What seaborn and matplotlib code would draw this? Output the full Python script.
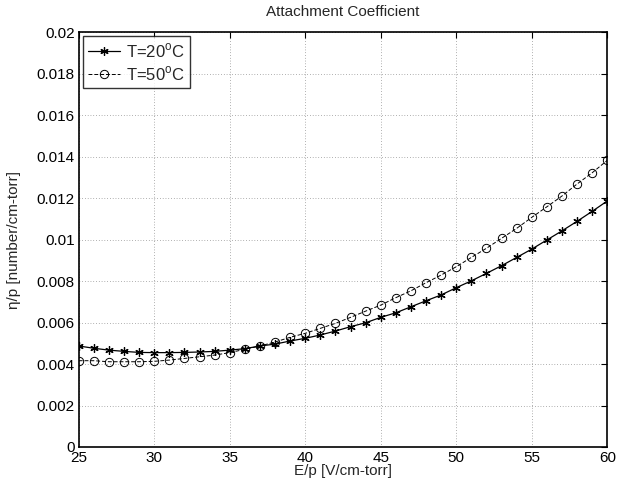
import numpy as np
import pandas as pd
import matplotlib
matplotlib.use('Agg')
import matplotlib.pyplot as plt
import seaborn as sns

ep = list(range(25, 61))
eta_20 = [0.00487, 0.00476, 0.00467, 0.00461, 0.00456, 0.00455, 0.00455, 0.00456,
          0.00458, 0.00461, 0.00467, 0.00474, 0.00487, 0.00496, 0.00511, 0.00524,
          0.00540, 0.00559, 0.00580, 0.00599, 0.00625, 0.00647, 0.00676, 0.00705,
          0.00733, 0.00768, 0.00801, 0.00837, 0.00874, 0.00914, 0.00954, 0.00998,
          0.01042, 0.01088, 0.01136, 0.01186]
eta_50 = [0.00416, 0.00416, 0.00411, 0.00411, 0.00411, 0.00413, 0.00419, 0.00427,
          0.00435, 0.00443, 0.00455, 0.00471, 0.00487, 0.00506, 0.00529, 0.00548,
          0.00572, 0.00596, 0.00625, 0.00655, 0.00684, 0.00720, 0.00753, 0.00792,
          0.00829, 0.00869, 0.00914, 0.00958, 0.01006, 0.01054, 0.01107, 0.01158,
          0.01210, 0.01268, 0.01322, 0.01382]
labels = ['T=20$^{\\mathregular{o}}$C', 'T=50$^{\\mathregular{o}}$C']

df20 = pd.DataFrame({'E/p': ep, 'eta': eta_20})
df50 = pd.DataFrame({'E/p': ep, 'eta': eta_50})

sns.set_style('white')
plt.rcParams['font.family'] = ['Liberation Sans', 'DejaVu Sans']
plt.rcParams['mathtext.fontset'] = 'custom'
plt.rcParams['mathtext.rm'] = 'Liberation Sans'

fig = plt.figure(figsize=(6.17, 4.95), dpi=100)
ax = fig.add_axes([0.1276, 0.097, 0.8566, 0.838])

# matlab style asterisk marker
sns.lineplot(data=df20, x='E/p', y='eta', ax=ax, color='black', lw=0.9,
             marker=(6, 2, 0), markersize=6, markeredgewidth=0.9, markeredgecolor='black',
             label=labels[0])
sns.lineplot(data=df50, x='E/p', y='eta', ax=ax, color='black', lw=0.7,
             linestyle=(0, (4, 2)), marker='o', markersize=6, markerfacecolor='none',
             markeredgecolor='black', markeredgewidth=0.7, label=labels[1])

ax.set_xlim(25, 60)
ax.set_ylim(0, 0.02)
ax.set_xticks(range(25, 61, 5))
ax.set_yticks(np.arange(0, 0.0201, 0.002))
ax.yaxis.set_major_formatter(plt.FuncFormatter(lambda v, p: '%g' % round(v, 4)))
ax.grid(True, linestyle=(0, (1, 3)), color='black', lw=0.5, alpha=0.6)
ax.tick_params(direction='in', length=4, labelsize=11, colors='black',
               top=True, right=True, pad=3)
for s in ax.spines.values():
    s.set_color('black')
    s.set_linewidth(1.2)

ax.set_title('Attachment Coefficient', fontsize=11, pad=12)
ax.set_xlabel('E/p [V/cm-torr]', fontsize=11, labelpad=-1)
ax.set_ylabel('\u03b7/p [number/cm-torr]', fontsize=11, labelpad=11)

leg = ax.legend(loc='upper left', fontsize=12, frameon=True, fancybox=False,
                handlelength=1.9, borderaxespad=0.25, handletextpad=0.4,
                borderpad=0.3, labelspacing=0.25)
leg.get_frame().set_edgecolor('black')
leg.get_frame().set_linewidth(1.0)

fig.savefig('out.png', dpi=100, facecolor='white')
